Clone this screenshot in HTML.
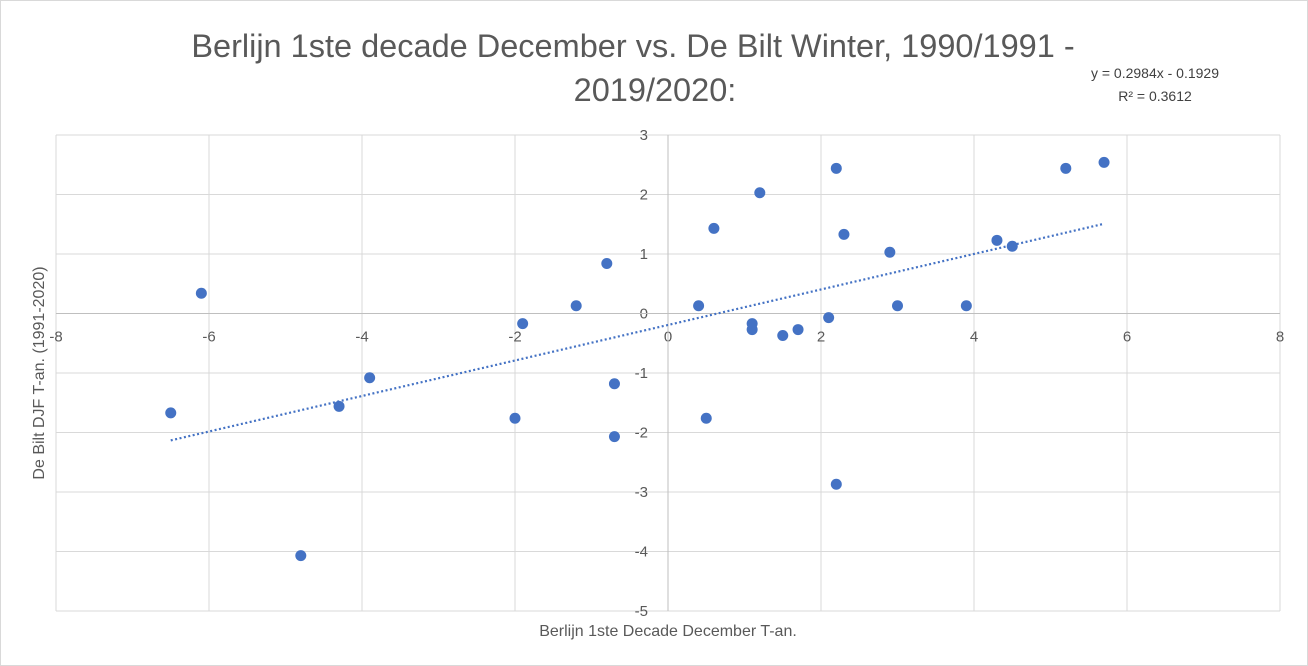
<!DOCTYPE html>
<html><head><meta charset="utf-8"><style>
body{margin:0;background:#fff;font-family:"Liberation Sans",sans-serif}
svg{display:block}
</style></head><body>
<svg id="chart" width="1308" height="666">
<rect x="0.5" y="0.5" width="1307" height="665" fill="#fff" stroke="#d9d9d9"/>
<text x="633" y="57" text-anchor="middle" font-size="32.5" fill="#595959">Berlijn 1ste decade December vs. De Bilt Winter, 1990/1991 -</text>
<text x="655" y="101" text-anchor="middle" font-size="32.5" fill="#595959">2019/2020:</text>
<text x="1155" y="78" text-anchor="middle" font-size="14" fill="#404040">y = 0.2984x - 0.1929</text>
<text x="1155" y="101" text-anchor="middle" font-size="14" fill="#404040">R² = 0.3612</text>
<g id="grid"></g><g id="axes"></g><g id="marks"></g>
<text x="668" y="636" text-anchor="middle" font-size="16" fill="#595959">Berlijn 1ste Decade December T-an.</text>
<text transform="translate(44,373) rotate(-90)" text-anchor="middle" font-size="16" fill="#595959">De Bilt DJF T-an. (1991-2020)</text>
</svg>
<script>
const xVals=[-6.5,-6.1,-4.8,-4.3,-3.9,-2.0,-1.9,-1.2,-0.8,-0.7,-0.7,0.4,0.5,0.6,1.1,1.1,1.2,1.5,1.7,2.1,2.2,2.2,2.3,2.9,3.0,3.9,4.3,4.5,5.2,5.7];
const yVals=[-1.67,0.34,-4.07,-1.56,-1.08,-1.76,-0.17,0.13,0.84,-1.18,-2.07,0.13,-1.76,1.43,-0.17,-0.27,2.03,-0.37,-0.27,-0.07,2.44,-2.87,1.33,1.03,0.13,0.13,1.23,1.13,2.44,2.54];
const xTicks=[-8,-6,-4,-2,0,2,4,6,8];
const yTicks=[3,2,1,0,-1,-2,-3,-4,-5];
const slope=0.2984, intercept=-0.1929;
const NS="http://www.w3.org/2000/svg";
const X0=56,X1=1280,Y0=135,Y1=611;
const sx=v=>X0+(v+8)/16*(X1-X0);
const sy=v=>Y1-(v+5)/8*(Y1-Y0);
function mk(t,a,p){const e=document.createElementNS(NS,t);for(const k in a)e.setAttribute(k,a[k]);p.appendChild(e);return e;}
const grid=document.getElementById('grid'),axes=document.getElementById('axes'),marks=document.getElementById('marks');
xTicks.forEach(t=>{const l=mk('line',{x1:sx(t),x2:sx(t),y1:Y0,y2:Y1,stroke:'#d9d9d9'},grid);


const tx=mk('text',{x:sx(t),y:sy(0)+28,'text-anchor':'middle','font-size':15,fill:'#595959'},axes);tx.textContent=t;

});
yTicks.forEach(t=>{const l=mk('line',{x1:X0,x2:X1,y1:sy(t),y2:sy(t),stroke:'#d9d9d9'},grid);


const tx=mk('text',{x:sx(0)-20,y:sy(t)+5,'text-anchor':'end','font-size':15,fill:'#595959'},axes);tx.textContent=t;

});
const xa=mk('line',{x1:X0,x2:X1,y1:sy(0),y2:sy(0),stroke:'#bfbfbf'},axes);


const ya=mk('line',{x1:sx(0),x2:sx(0),y1:Y0,y2:Y1,stroke:'#bfbfbf'},axes);


const xmin=Math.min(...xVals),xmax=Math.max(...xVals);
const tl=mk('line',{x1:sx(xmin),y1:sy(slope*xmin+intercept),x2:sx(xmax),y2:sy(slope*xmax+intercept),stroke:'#4472c4','stroke-width':2.2,'stroke-dasharray':'2 2.5'},marks);


xVals.forEach((x,i)=>{const c=mk('circle',{cx:sx(x),cy:sy(yVals[i]),r:5.5,fill:'#4472c4'},marks);

});
</script>
</body></html>
